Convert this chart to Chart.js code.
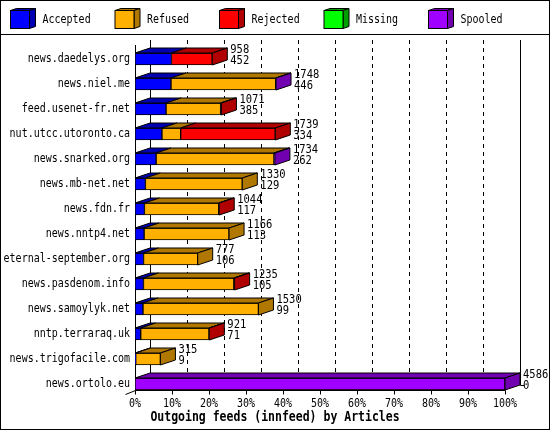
<!DOCTYPE html>
<html>
<head>
<meta charset="utf-8">
<script src="https://cdn.jsdelivr.net/npm/chart.js@4/dist/chart.umd.min.js"></script>
<style>
  body { margin: 0; background: #fff; }
  #wrap { width: 550px; height: 430px; }
</style>
</head>
<body>
<div id="wrap"><canvas id="chart" width="550" height="430"></canvas></div>
<script>
// innfeed outgoing feeds, article counts per peer
const categories = [
    'news.daedelys.org', 'news.niel.me', 'feed.usenet-fr.net', 'nut.utcc.utoronto.ca',
    'news.snarked.org', 'news.mb-net.net', 'news.fdn.fr', 'news.nntp4.net',
    'eternal-september.org', 'news.pasdenom.info', 'news.samoylyk.net', 'nntp.terraraq.uk',
    'news.trigofacile.com', 'news.ortolo.eu'
];
const accepted = [452, 446, 385, 334, 262, 129, 117, 113, 106, 105, 99, 71, 9, 0];
const refused  = [0, 1298, 676, 232, 1460, 1201, 921, 1053, 671, 1120, 1431, 846, 306, 0];
const rejected = [506, 0, 10, 1173, 0, 0, 6, 0, 0, 10, 0, 4, 0, 0];
const missing  = [0, 0, 0, 0, 0, 0, 0, 0, 0, 0, 0, 0, 0, 0];
const spooled  = [0, 4, 0, 0, 12, 0, 0, 0, 0, 0, 0, 0, 0, 4586];
const tickLabels = ['0%', '10%', '20%', '30%', '40%', '50%', '60%', '70%', '80%', '90%', '100%'];
const seriesNames = ['Accepted', 'Refused', 'Rejected', 'Missing', 'Spooled'];
const xTitle = 'Outgoing feeds (innfeed) by Articles';

const frontColors = ['#0000ff', '#ffb000', '#ff0000', '#00ff00', '#a000ff'];
const shadeColors = ['#0000b0', '#b07800', '#b00000', '#00a000', '#7000b0'];

const totals = categories.map((_, i) =>
    accepted[i] + refused[i] + rejected[i] + missing[i] + spooled[i]);
const maxTotal = Math.max(...totals);

// 3D depth offset
const DX = 15, DY = 5;
const FONT = '"DejaVu Sans Mono", monospace';

function poly(ctx, pts, fill) {
    ctx.beginPath();
    ctx.moveTo(pts[0][0], pts[0][1]);
    for (let k = 1; k < pts.length; k++) ctx.lineTo(pts[k][0], pts[k][1]);
    ctx.closePath();
    ctx.fillStyle = fill;
    ctx.fill();
    ctx.strokeStyle = '#000';
    ctx.lineWidth = 1;
    ctx.stroke();
}

// text stretched a bit vertically, closer to the gd bitmap font
function label(ctx, str, x, y, font, align) {
    ctx.save();
    ctx.translate(x, y);
    ctx.scale(1, 1.18);
    ctx.font = font;
    ctx.fillStyle = '#000';
    ctx.textAlign = align;
    ctx.textBaseline = 'middle';
    ctx.fillText(str, 0, 0);
    ctx.restore();
}

const frame3d = {
    id: 'frame3d',
    beforeDraw(chart) {
        const ctx = chart.ctx;
        ctx.save();
        ctx.fillStyle = '#fff';
        ctx.fillRect(0, 0, chart.width, chart.height);
        ctx.restore();
    },
    beforeDatasetsDraw(chart) {
        const ctx = chart.ctx;
        const xs = chart.scales.x;
        const ys = chart.scales.y;
        const floorY = Math.round(ys.getPixelForValue(categories.length - 1)) + 6.5;
        const top = 40;
        ctx.save();
        ctx.strokeStyle = '#000';
        ctx.lineWidth = 1;
        const n = tickLabels.length - 1;
        for (let i = 0; i <= n; i++) {
            const px = Math.round(xs.getPixelForValue(maxTotal * i / n)) + 0.5;
            // back wall grid
            ctx.setLineDash(i === 0 || i === n ? [] : [4, 4]);
            ctx.beginPath();
            ctx.moveTo(px + DX, top);
            ctx.lineTo(px + DX, floorY - DY);
            ctx.stroke();
            // front ticks
            ctx.setLineDash([]);
            ctx.beginPath();
            ctx.moveTo(px, floorY);
            ctx.lineTo(px, floorY + 4);
            ctx.stroke();
        }
        const x0 = Math.round(xs.getPixelForValue(0)) + 0.5;
        const x1 = Math.round(xs.getPixelForValue(maxTotal)) + 0.5;
        ctx.beginPath();
        ctx.moveTo(x0, top + 5);
        ctx.lineTo(x0, floorY);
        ctx.lineTo(x1, floorY);
        ctx.moveTo(x0, floorY);
        ctx.lineTo(x0 - 10, floorY + 4);
        ctx.moveTo(x1 + DX, floorY - DY);
        ctx.lineTo(x1 + DX + 4, floorY - DY);
        ctx.stroke();
        ctx.restore();
    },
    afterDatasetsDraw(chart) {
        const ctx = chart.ctx;
        const metas = chart.data.datasets.map((_, d) => chart.getDatasetMeta(d));
        ctx.save();
        ctx.lineJoin = 'miter';
        categories.forEach((cat, i) => {
            let last = -1, endX = 0, cy = 0, h = 0;
            metas.forEach((meta, d) => {
                const el = meta.data[i];
                const p = el.getProps(['x', 'base', 'y', 'height'], true);
                cy = p.y; h = p.height;
                if (chart.data.datasets[d].data[i] > 0) {
                    const t = p.y - p.height / 2;
                    const l = p.base, r = p.x;
                    poly(ctx, [[l, t], [l + DX, t - DY], [r + DX, t - DY], [r, t]], shadeColors[d]);
                    last = d; endX = r;
                }
            });
            if (last >= 0) {
                const t = cy - h / 2, b = cy + h / 2;
                poly(ctx, [[endX, t], [endX + DX, t - DY], [endX + DX, b - DY], [endX, b]], shadeColors[last]);
            }
            label(ctx, cat, 130, cy, '10px ' + FONT, 'right');
            // totals / accepted
            label(ctx, String(totals[i]), endX + DX + 3, cy - 9, '10.5px ' + FONT, 'left');
            label(ctx, String(accepted[i]), endX + DX + 3, cy + 2, '10.5px ' + FONT, 'left');
        });
        ctx.restore();
    },
    afterDraw(chart) {
        const ctx = chart.ctx;
        const xs = chart.scales.x;
        const ys = chart.scales.y;
        const floorY = Math.round(ys.getPixelForValue(categories.length - 1)) + 6.5;
        ctx.save();
        const n = tickLabels.length - 1;
        tickLabels.forEach((lab, i) => {
            label(ctx, lab, xs.getPixelForValue(maxTotal * i / n), floorY + 13, '10px ' + FONT, 'center');
        });
        label(ctx, xTitle, chart.width / 2, floorY + 27, 'bold 11.5px ' + FONT, 'center');

        // legend
        seriesNames.forEach((name, d) => {
            const lx = 10.5 + d * 104.5, ly = 10.5, w = 19, hh = 18, ox = 6, oy = 2;
            poly(ctx, [[lx, ly], [lx + ox, ly - oy], [lx + w + ox, ly - oy], [lx + w, ly]], shadeColors[d]);
            poly(ctx, [[lx + w, ly], [lx + w + ox, ly - oy], [lx + w + ox, ly + hh - oy], [lx + w, ly + hh]], shadeColors[d]);
            ctx.fillStyle = frontColors[d];
            ctx.fillRect(lx, ly, w, hh);
            ctx.strokeStyle = '#000';
            ctx.strokeRect(lx, ly, w, hh);
            label(ctx, name, lx + 32, ly + 9.5, '10px ' + FONT, 'left');
        });

        // outer border and legend separator
        ctx.strokeStyle = '#000';
        ctx.lineWidth = 1;
        ctx.strokeRect(0.5, 0.5, chart.width - 1, chart.height - 1);
        ctx.beginPath();
        ctx.moveTo(0, 34.5);
        ctx.lineTo(chart.width, 34.5);
        ctx.stroke();
        ctx.restore();
    }
};

const seriesData = [accepted, refused, rejected, missing, spooled];

new Chart(document.getElementById('chart'), {
    type: 'bar',
    data: {
        labels: categories,
        datasets: seriesNames.map((name, d) => ({
            label: name,
            data: seriesData[d],
            backgroundColor: frontColors[d],
            borderColor: '#000',
            borderWidth: 1,
            borderSkipped: false,
            barThickness: 12
        }))
    },
    options: {
        indexAxis: 'y',
        responsive: false,
        animation: false,
        devicePixelRatio: 1,
        layout: { padding: { left: 135, right: 45, top: 46.5, bottom: 33.5 } },
        scales: {
            x: { stacked: true, min: 0, max: maxTotal, display: false },
            y: { stacked: true, display: false }
        },
        plugins: {
            legend: { display: false },
            tooltip: { enabled: false }
        }
    },
    plugins: [frame3d]
});
</script>
</body>
</html>
